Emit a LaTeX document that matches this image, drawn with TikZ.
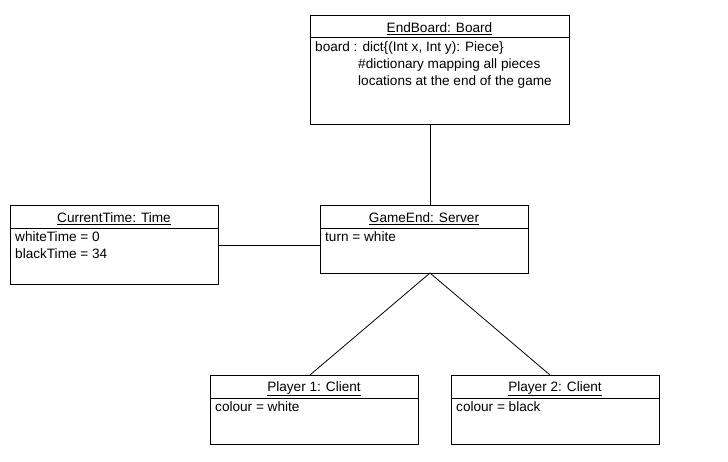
\documentclass[tikz,border=0pt]{standalone}
\usepackage{fontspec}
\setmainfont{Liberation Sans}
\begin{document}
\begin{tikzpicture}[x=1pt,y=-1pt,
  objbox/.style={draw, line width=0.9pt, anchor=north west, inner sep=0, rectangle},
  title/.style={anchor=center, inner sep=0, font=\fontsize{13.6}{17}\selectfont},
  attr/.style={anchor=north west, inner sep=0, align=left, font=\fontsize{13.6}{17}\selectfont},
  link/.style={line width=0.8pt}]
\useasboundingbox (0,0) rectangle (728,462);
% EndBoard
\node[objbox, minimum width=259, minimum height=109] (eb) at (310,15) {};
\draw[link] (310,37) -- (569,37);
\node[title] (ebt) at (439.5,28.5) {\underline{EndBoard: Board}};
\node[attr] (eba) at (315,41) {board : dict\{(Int x, Int y): Piece\}\\
\hspace{43pt}\#dictionary mapping all pieces\\
\hspace{43pt}locations at the end of the game};
% CurrentTime
\node[objbox, minimum width=208, minimum height=79] (ct) at (10,205) {};
\draw[link] (10,228) -- (218,228);
\node[title] (ctt) at (114,218.5) {\underline{CurrentTime: Time}};
\node[attr] (cta) at (15,231.5) {whiteTime = 0\\blackTime = 34};
% GameEnd
\node[objbox, minimum width=208, minimum height=68] (ge) at (320,205) {};
\draw[link] (320,228) -- (528,228);
\node[title] (get) at (424,218.5) {\underline{GameEnd: Server}};
\node[attr] (gea) at (325,231.5) {turn = white};
% Player 1
\node[objbox, minimum width=208, minimum height=69] (p1) at (210,375) {};
\draw[link] (210,398) -- (418,398);
\node[title] (p1t) at (314,388.5) {\underline{Player 1: Client}};
\node[attr] (p1a) at (215,401.5) {colour = white};
% Player 2
\node[objbox, minimum width=208, minimum height=69] (p2) at (451,375) {};
\draw[link] (451,398) -- (659,398);
\node[title] (p2t) at (555,388.5) {\underline{Player 2: Client}};
\node[attr] (p2a) at (456,401.5) {colour = black};
% connectors
\coordinate (geb) at (430,273);
\draw[link] (eb.south -| geb) -- (ge.north -| geb);
\draw[link] (ct.east) -- (ct.east -| ge.west);
\draw[link] (geb) -- (p1.north -| 310,0);
\draw[link] (geb) -- (p2.north -| 550,0);
\end{tikzpicture}
\end{document}
